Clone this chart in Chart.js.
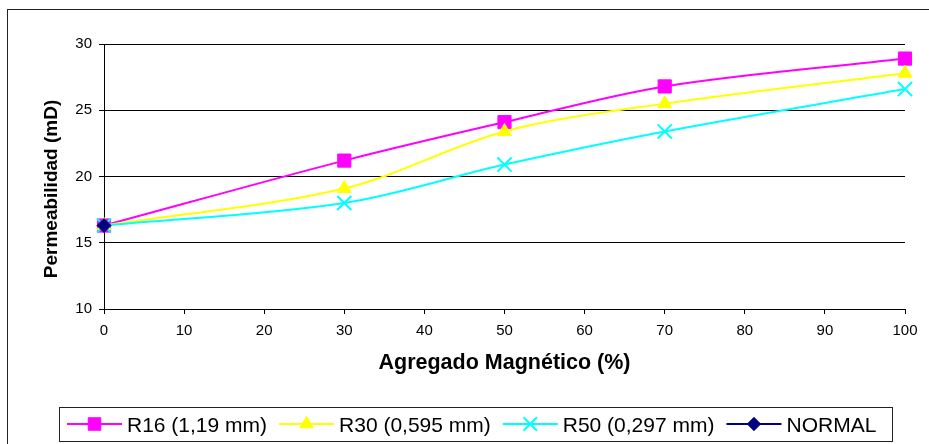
<!DOCTYPE html>
<html>
<head>
<meta charset="utf-8">
<script src="https://cdn.jsdelivr.net/npm/chart.js@4.4.1/dist/chart.umd.min.js"></script>
<style>
  html, body { margin: 0; padding: 0; background: #fff; overflow: hidden; }
  #wrap { position: relative; width: 929px; height: 444px; }
  #marco { position: absolute; left: 7px; top: 9px; width: 1000px; height: 1000px; border: 1px solid #222; box-sizing: border-box; }
  #grafico { position: absolute; left: 0; top: 0; }
</style>
</head>
<body>
<div id="wrap">
  <div id="marco"></div>
  <canvas id="grafico" width="929" height="444"></canvas>
</div>
<script>
// Datos: permeabilidad (mD) frente al % de agregado magnético
const agregado = [0, 30, 50, 70, 100];
const r16 = [16.3, 21.2, 24.1, 26.8, 28.9];
const r30 = [16.3, 19.1, 23.4, 25.5, 27.8];
const r50 = [16.3, 18.0, 20.9, 23.4, 26.6];
const normalX = [0];
const normal = [16.3];
const ticksY = [10, 15, 20, 25, 30];
const ticksX = [0, 10, 20, 30, 40, 50, 60, 70, 80, 90, 100];

const FUENTE = "'Liberation Sans', Arial, sans-serif";

function puntos(xs, ys) {
    return xs.map((x, i) => ({ x: x, y: ys[i] }));
}

function serie(label, xs, ys, color, estilo, radio, orden) {
    return {
        label: label,
        data: puntos(xs, ys),
        borderColor: color,
        backgroundColor: color,
        borderWidth: 2,
        tension: 0.33,
        pointStyle: estilo,
        pointRadius: radio,
        pointHoverRadius: radio,
        pointBorderWidth: estilo === 'crossRot' ? 2 : 1,
        pointBorderColor: color,
        pointBackgroundColor: color,
        clip: false,
        order: orden
    };
}

const series = [
    serie('R16 (1,19 mm)', agregado, r16, '#FF00FF', 'rect', 9.3, 4),
    serie('R30 (0,595 mm)', agregado, r30, '#FFFF00', 'triangle', 8, 3),
    serie('R50 (0,297 mm)', agregado, r50, '#00FFFF', 'crossRot', 10, 2),
    serie('NORMAL', normalX, normal, '#000080', 'rectRot', 7, 1)
];

// título vertical del eje Y
const tituloY = {
    id: 'tituloY',
    afterDraw(chart) {
        const ctx = chart.ctx;
        ctx.save();
        ctx.translate(52, 189);
        ctx.rotate(-Math.PI / 2);
        ctx.font = 'bold 19px ' + FUENTE;
        ctx.fillStyle = '#000';
        ctx.textAlign = 'center';
        ctx.textBaseline = 'middle';
        ctx.fillText('Permeabilidad (mD)', 0, 0);
        ctx.restore();
    }
};

// leyenda con recuadro, línea y marcador de cada serie
const leyenda = {
    id: 'leyendaCaja',
    afterDraw(chart) {
        const ctx = chart.ctx;
        ctx.save();
        ctx.strokeStyle = '#222';
        ctx.lineWidth = 1;
        ctx.strokeRect(59.5, 407.5, 833, 34);
        ctx.font = '21px ' + FUENTE;
        let x = 67;
        const y = 424;
        chart.data.datasets.forEach((ds) => {
            ctx.strokeStyle = ds.borderColor;
            ctx.lineWidth = 2;
            ctx.beginPath();
            ctx.moveTo(x, y);
            ctx.lineTo(x + 55, y);
            ctx.stroke();
            ctx.fillStyle = ds.pointBackgroundColor;
            ctx.lineWidth = ds.pointBorderWidth;
            Chart.helpers.drawPoint(ctx, {
                pointStyle: ds.pointStyle,
                radius: ds.pointRadius * 0.95,
                rotation: 0,
                borderWidth: ds.pointBorderWidth
            }, x + 27.5, y);
            ctx.fillStyle = '#000';
            ctx.textAlign = 'left';
            ctx.textBaseline = 'alphabetic';
            ctx.fillText(ds.label, x + 60, y + 7.5);
            x += 60 + ctx.measureText(ds.label).width + 12;
        });
        ctx.restore();
    }
};

const ctx = document.getElementById('grafico').getContext('2d');
const myChart = new Chart(ctx, {
    type: 'line',
    data: { datasets: series },
    plugins: [tituloY, leyenda],
    options: {
        responsive: false,
        animation: false,
        devicePixelRatio: 1,
        layout: { padding: { left: 41, right: 24, top: 44, bottom: 68 } },
        plugins: {
            legend: { display: false },
            tooltip: { enabled: false }
        },
        scales: {
            x: {
                type: 'linear',
                min: 0,
                max: 100,
                afterFit: (scale) => { scale.height = 67; },
                afterBuildTicks: (scale) => { scale.ticks = ticksX.map((v) => ({ value: v })); },
                ticks: { color: '#000', font: { family: FUENTE, size: 15 }, padding: 8, maxRotation: 0 },
                grid: { drawOnChartArea: false, color: '#000', tickLength: 5 },
                border: { color: '#000' },
                title: {
                    display: true,
                    text: 'Agregado Magnético (%)',
                    color: '#000',
                    font: { family: FUENTE, size: 21.5, weight: 'bold' },
                    padding: 0
                }
            },
            y: {
                min: 10,
                max: 30,
                afterFit: (scale) => { scale.width = 63; },
                afterBuildTicks: (scale) => { scale.ticks = ticksY.map((v) => ({ value: v })); },
                ticks: { color: '#000', font: { family: FUENTE, size: 15 }, padding: 7 },
                grid: { color: '#000', tickLength: 5 },
                border: { color: '#000' }
            }
        }
    }
});
</script>
</body>
</html>
